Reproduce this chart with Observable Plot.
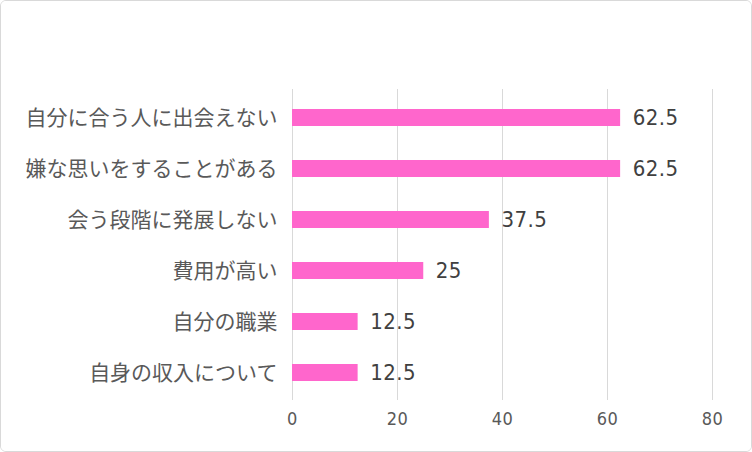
<!DOCTYPE html>
<html>
<head>
<meta charset="utf-8">
<script src="https://cdn.jsdelivr.net/npm/d3@7"></script>
<script src="https://cdn.jsdelivr.net/npm/@observablehq/plot@0.6"></script>
<style>
  html, body { margin: 0; padding: 0; background: #fff; }
  #frame { width: 750px; height: 450px; border: 1px solid #d9d9d9; border-radius: 6px; overflow: hidden; background: #fff; }
  #frame svg { display: block; }
</style>
</head>
<body>
<div id="frame"></div>
<script>
const categories = ["自分に合う人に出会えない", "嫌な思いをすることがある", "会う段階に発展しない", "費用が高い", "自分の職業", "自身の収入について"];
const values = [62.5, 62.5, 37.5, 25, 12.5, 12.5];
const xTicks = [0, 20, 40, 60, 80];

const data = categories.map((c, i) => ({category: c, value: values[i]}));

const chart = Plot.plot({
  width: 750,
  height: 450,
  marginLeft: 291,
  marginRight: 39,
  marginTop: 88,
  marginBottom: 51,
  style: {fontFamily: "'Noto Sans CJK JP', sans-serif", background: "#fff", color: "#595959"},
  x: {domain: [0, 80], ticks: xTicks, label: null},
  y: {domain: categories, label: null, paddingInner: 0.67, paddingOuter: 0.335},
  marks: [
    Plot.gridX(xTicks, {stroke: "#d9d9d9", strokeOpacity: 1, strokeWidth: 1}),
    Plot.barX(data, {y: "category", x: "value", fill: "#ff66cc"}),
    Plot.text(data, {y: "category", x: "value", text: d => String(d.value), textAnchor: "start", dx: 12, fontSize: 22, fill: "#404040", fontFamily: "DejaVu Sans Condensed"}),
    Plot.axisX(xTicks, {tickSize: 0, tickPadding: 12, fontSize: 18, fill: "#595959", label: null, fontFamily: "DejaVu Sans Condensed"}),
    Plot.axisY({tickSize: 0, tickPadding: 15, fontSize: 21, fill: "#595959", label: null})
  ]
});
d3.select(chart).selectAll("g[font-family='DejaVu Sans Condensed']")
  .style("font-family", "'DejaVu Sans', sans-serif").style("font-stretch", "condensed").style("letter-spacing", "0.5px");
document.getElementById("frame").appendChild(chart);
</script>
</body>
</html>
